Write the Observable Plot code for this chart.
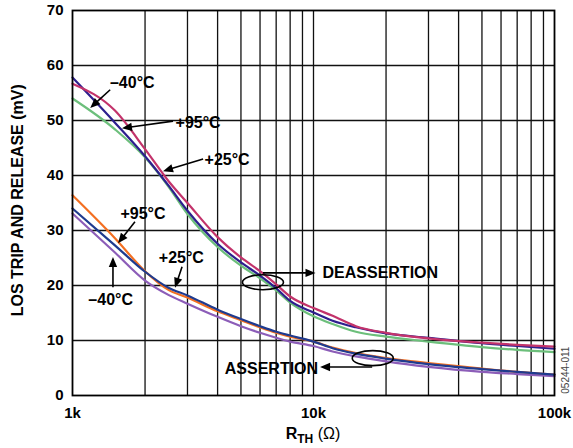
<!DOCTYPE html>
<html>
<head>
<meta charset="utf-8">
<script src="https://cdn.jsdelivr.net/npm/d3@7"></script>
<script src="https://cdn.jsdelivr.net/npm/@observablehq/plot@0.6"></script>
<style>
  html, body { margin: 0; padding: 0; background: #fff; }
  #wrap { position: relative; width: 573px; height: 448px; }
  #xlabel { position: absolute; left: 0; width: 626px; top: 425px; text-align: center;
    font-family: "Liberation Sans", Arial, sans-serif; font-weight: bold; font-size: 16px; color: #000; }
  #xlabel sub { font-size: 12px; vertical-align: -4px; }
  #xlabel .n { font-weight: normal; }
</style>
</head>
<body>
<div id="wrap"><div id="xlabel">R<sub>TH</sub> <span class="n">(Ω)</span></div></div>
<script>
// ---- data ----
const rth = [1000,1500,2000,2500,3000,4000,5000,6000,7000,8000,10000,12000,15000,20000,30000,50000,70000,100000];
// deassertion (release)
const deasM40 = [57.8,49.6,43.5,38.2,33.6,27.6,24.2,21.8,19.5,17.2,15.1,13.6,12.4,11.3,10.5,9.5,9.0,8.5];
const deasP95 = [56.7,51.8,44.8,39.0,35.0,28.8,25.1,22.6,20.2,18.0,15.9,14.5,12.6,11.4,10.4,9.6,9.2,8.9];
const deasP25 = [54.0,48.4,43.3,38.0,33.0,27.0,23.6,21.3,19.1,16.9,14.4,13.0,11.6,10.7,9.8,8.8,8.3,7.9];
// assertion (trip)
const asP95 = [36.4,28.6,22.6,19.2,17.8,15.3,13.7,12.4,11.4,10.7,9.8,8.7,7.7,6.8,5.9,4.9,4.3,3.8];
const asP25 = [34.0,27.3,22.5,19.6,18.2,15.6,13.9,12.6,11.6,10.9,9.8,8.6,7.6,6.7,5.7,4.8,4.3,3.8];
const asM40 = [33.1,26.0,20.9,18.3,16.7,14.3,12.6,11.4,10.5,9.8,9.0,8.0,7.1,6.2,5.2,4.3,3.9,3.5];

const seriesNames = ["DEAS +25°C","DEAS –40°C","DEAS +95°C","AS +95°C","AS –40°C","AS +25°C"];
const seriesValues = [deasP25, deasM40, deasP95, asP95, asM40, asP25];
const seriesColors = ["#6cbf7b","#2d1f8e","#c3336b","#f36f21","#8c5db8","#1f3b8f"];

const xTicks = [1000, 10000, 100000];
const xTickLabels = ["1k", "10k", "100k"];
const yTicks = [0,10,20,30,40,50,60,70];
const xGrid = [2000,3000,4000,5000,6000,7000,8000,9000,10000,20000,30000,40000,50000,60000,70000,80000,90000];
const yGrid = [10,20,30,40,50,60];

// annotation texts
const labelTexts = ["–40°C","+95°C","+25°C","+95°C","–40°C","+25°C"];
const labelX = [1770, 3320, 4380, 1960, 1440, 2830];
const labelY = [56.9, 49.6, 42.9, 33.1, 17.3, 25.1];
const calloutTexts = ["DEASSERTION", "ASSERTION"];
const calloutX = [10900, 10450];
const calloutY = [22.3, 4.9];
// arrows (from -> to)
const arrowX1 = [1440, 2626, 3500, 1825, 1479, 2862, 6200, 17600];
const arrowY1 = [55.5, 49.8, 42.9, 31.5, 19.6, 23.3, 22.2, 5.1];
const arrowX2 = [1190, 1612, 2386, 1552, 1479, 2675, 10240, 10700];
const arrowY2 = [52.2, 48.5, 40.7, 27.6, 25.1, 19.5, 22.2, 5.1];
// ellipses (centres)
const ellipseX = [6200, 17700];
const ellipseY = [20.5, 6.7];

const lineData = seriesNames.flatMap((s, k) => rth.map((r, i) => ({s, r, v: seriesValues[k][i]})));
const labelData = labelTexts.map((t, i) => ({t, x: labelX[i], y: labelY[i]}));
const arrows = arrowX1.map((_, i) => ({x1: arrowX1[i], y1: arrowY1[i], x2: arrowX2[i], y2: arrowY2[i]}));
const ellipses = ellipseX.map((x, i) => ({x, y: ellipseY[i]}));

const font = "'Liberation Sans', Arial, Helvetica, sans-serif";

function annotations(index, scales) {
  const x = scales.x, y = scales.y;
  const g = d3.create("svg:g");
  for (const e of ellipses) {
    g.append("ellipse")
      .attr("cx", x(e.x)).attr("cy", y(e.y))
      .attr("rx", 20.5).attr("ry", 7.5)
      .attr("fill", "none").attr("stroke", "#000").attr("stroke-width", 1.6);
  }
  const headL = 10, headW = 4.2;
  for (const a of arrows) {
    const px1 = x(a.x1), py1 = y(a.y1), px2 = x(a.x2), py2 = y(a.y2);
    const dx = px2 - px1, dy = py2 - py1, len = Math.hypot(dx, dy);
    const ux = dx / len, uy = dy / len;
    const bx = px2 - ux * headL, by = py2 - uy * headL;
    g.append("line")
      .attr("x1", px1).attr("y1", py1).attr("x2", bx + ux).attr("y2", by + uy)
      .attr("stroke", "#000").attr("stroke-width", 1.6);
    g.append("path")
      .attr("d", `M${px2},${py2}L${bx - uy * headW},${by + ux * headW}L${bx + uy * headW},${by - ux * headW}Z`)
      .attr("fill", "#000");
  }
  return g.node();
}

const chart = Plot.plot({
  width: 573,
  height: 448,
  marginLeft: 72,
  marginRight: 19,
  marginTop: 10,
  marginBottom: 53,
  style: {fontFamily: font, fontSize: "15px", fontWeight: "bold", color: "#000", background: "#fff"},
  x: {type: "log", domain: [1000, 100000], ticks: xTicks, tickFormat: (d) => xTickLabels[xTicks.indexOf(d)] ?? "",
      tickSize: 0, tickPadding: 12, label: null},
  y: {domain: [0, 70], ticks: yTicks, tickSize: 0, tickPadding: 9, label: null},
  color: {domain: seriesNames, range: seriesColors},
  marks: [
    Plot.ruleX(xGrid, {stroke: "#111", strokeWidth: 1.3}),
    Plot.ruleY(yGrid, {stroke: "#111", strokeWidth: 1.3}),
    Plot.line(lineData, {x: "r", y: "v", z: "s", stroke: "s", strokeWidth: 2.2, curve: "monotone-x"}),
    Plot.frame({stroke: "#000", strokeWidth: 1.8}),
    Plot.text(labelData, {x: "x", y: "y", text: "t", fontSize: 16, fontWeight: "bold", fill: "#000"}),
    Plot.text(calloutTexts.slice(0, 1), {x: calloutX.slice(0, 1), y: calloutY.slice(0, 1), text: d => d,
      textAnchor: "start", fontSize: 16, fontWeight: "bold", fill: "#000"}),
    Plot.text(calloutTexts.slice(1), {x: calloutX.slice(1), y: calloutY.slice(1), text: d => d,
      textAnchor: "end", fontSize: 16, fontWeight: "bold", fill: "#000"}),
    annotations,
    Plot.text(["05244-011"], {x: [100000], y: [4.6], text: d => d, dx: 11, rotate: -90,
      fontSize: 10, fontWeight: "normal", fill: "#444"}),
    Plot.text(["LOS TRIP AND RELEASE (mV)"], {x: [1000], y: [35.5], text: d => d, dx: -55, rotate: -90,
      fontSize: 16, fontWeight: "bold", fill: "#000",
      fontFamily: "'Liberation Sans Narrow', 'Arial Narrow', 'Liberation Sans', sans-serif"})
  ]
});
document.getElementById("wrap").prepend(chart);
</script>
</body>
</html>
